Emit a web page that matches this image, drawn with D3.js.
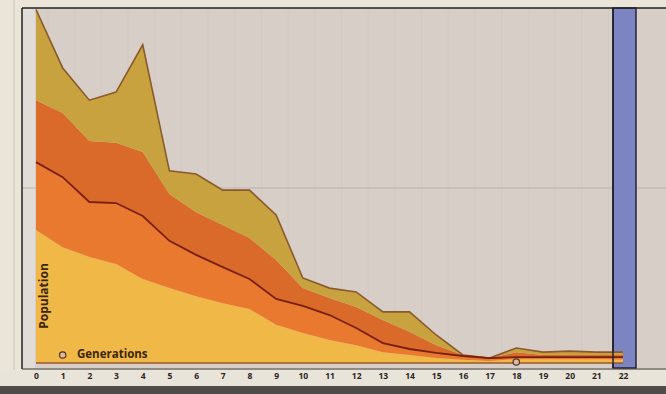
<!DOCTYPE html>
<html>
<head>
<meta charset="utf-8">
<script src="https://cdn.jsdelivr.net/npm/d3@7"></script>
<style>
  body { margin: 0; background: #ebe5d9; }
  svg { display: block; }
  text { font-family: "Open Sans", "Lato", sans-serif; }
</style>
</head>
<body>
<div id="chart"></div>
<script>
//data - population per generation
const generations = d3.range(0, 23);
const maxPop = [101, 84.3, 75.1, 77.4, 90.9, 54.9, 54, 49.4, 49.4, 42.3, 24.3, 21.4, 20.3, 14.6, 14.6, 8, 2.3, 1.4, 4.3, 3.1, 3.4, 3.1, 3.1];
const upperPop = [75.1, 71.4, 63.4, 62.9, 60.3, 48.3, 43.1, 39.4, 35.7, 29.4, 21.4, 18.6, 16, 12.3, 8.9, 5.1, 2.3, 1.4, 3.1, 2.3, 2.3, 2.3, 2.3];
const medianPop = [57.4, 53.1, 46, 45.7, 42, 34.9, 30.9, 27.4, 24, 18.3, 16.3, 13.7, 10, 5.7, 4, 2.9, 2, 1.4, 1.7, 1.7, 1.7, 1.7, 1.7];
const lowerPop = [38, 33.1, 30.3, 28.3, 24, 21.4, 19.1, 17.1, 15.4, 10.9, 8.6, 6.6, 5.1, 3.1, 2.3, 1.4, 0.9, 0.6, 1.1, 1.1, 1.1, 1.1, 1.1];
const markerGens = [1, 18];
const gridValues = [50];

const W = 666, H = 394;

const svg = d3.select("#chart").append("svg")
  .attr("width", W)
  .attr("height", H);

//scales
const x = d3.scaleLinear().domain([0, 22]).range([36, 623]);
const y = d3.scaleLinear().domain([0, 100]).range([363, 13]);

//background bits of the photo
svg.append("rect").attr("x", 0).attr("y", 0).attr("width", W).attr("height", H).attr("fill", "#ebe5d9");
svg.append("line").attr("x1", 14).attr("x2", 14).attr("y1", 0).attr("y2", 385).attr("stroke", "#cbc4b8");
svg.append("rect").attr("x", 0).attr("y", 386).attr("width", W).attr("height", 8).attr("fill", "#4f4d4a");

//plot area
svg.append("rect").attr("x", 22).attr("y", 8).attr("width", W - 22).attr("height", 360).attr("fill", "#d8cec8");
svg.append("rect").attr("x", 22).attr("y", 8).attr("width", 13).attr("height", 360).attr("fill", "#e1dcd7");

//faint vertical grid
svg.append("g").selectAll("line")
  .data(generations)
  .join("line")
  .attr("x1", d => x(d) + 12).attr("x2", d => x(d) + 12)
  .attr("y1", 10).attr("y2", 362)
  .attr("stroke", "#cdc4bf").attr("stroke-width", 1).attr("opacity", 0.45);

//horizontal grid
svg.append("g").selectAll("line")
  .data(gridValues)
  .join("line")
  .attr("x1", 22).attr("x2", W)
  .attr("y1", d => y(d)).attr("y2", d => y(d))
  .attr("stroke", "#b9b1ab").attr("stroke-width", 1.2);

//blue bar at the right (fill behind the data)
svg.append("rect").attr("x", 613).attr("y", 8).attr("width", 23).attr("height", 360)
  .attr("fill", "#7c84c1").attr("stroke", "#1c1c2a").attr("stroke-width", 1.4);

const rows = generations.map((g, i) => ({
  g: g, max: maxPop[i], up: upperPop[i], med: medianPop[i], low: lowerPop[i]
}));

const band = (lo, hi) => d3.area()
  .x(d => x(d.g))
  .y0(d => y(lo(d)))
  .y1(d => y(hi(d)));

//bands bottom to top
svg.append("path").datum(rows).attr("d", band(d => 0, d => d.low)).attr("fill", "#f0b846");
svg.append("path").datum(rows).attr("d", band(d => d.low, d => d.med)).attr("fill", "#e9792f");
svg.append("path").datum(rows).attr("d", band(d => d.med, d => d.up)).attr("fill", "#d96a2a");
svg.append("path").datum(rows).attr("d", band(d => d.up, d => d.max)).attr("fill", "#c8a23e");

//outline on the top
svg.append("path").datum(rows)
  .attr("d", d3.line().x(d => x(d.g)).y(d => y(d.max)))
  .attr("fill", "none").attr("stroke", "#8a5a2c").attr("stroke-width", 1.6);

//median line
svg.append("path").datum(rows)
  .attr("d", d3.line().x(d => x(d.g)).y(d => y(d.med)))
  .attr("fill", "none").attr("stroke", "#7a1f10").attr("stroke-width", 1.8);

//baseline
svg.append("line").attr("x1", x(0)).attr("x2", x(22)).attr("y1", y(0)).attr("y2", y(0))
  .attr("stroke", "#9a5a2a").attr("stroke-width", 1.5);

//markers
svg.append("g").selectAll("circle")
  .data(markerGens)
  .join("circle")
  .attr("cx", d => x(d))
  .attr("cy", (d, i) => i === 0 ? 355 : 362)
  .attr("r", 3.2)
  .attr("fill", "#d9b9a0").attr("stroke", "#5a3020").attr("stroke-width", 1.2);

//left edge of the bar shows through
svg.append("line").attr("x1", 613).attr("x2", 613).attr("y1", 8).attr("y2", 368).attr("stroke", "#1c1c2a").attr("stroke-width", 1.4);

//frame
svg.append("line").attr("x1", 22).attr("x2", 22).attr("y1", 8).attr("y2", 369).attr("stroke", "#222").attr("stroke-width", 1.5);
svg.append("line").attr("x1", 22).attr("x2", W).attr("y1", 8).attr("y2", 8).attr("stroke", "#222").attr("stroke-width", 1.5);
svg.append("line").attr("x1", 22).attr("x2", W).attr("y1", 369).attr("y2", 369).attr("stroke", "#333").attr("stroke-width", 1.2);
svg.append("rect").attr("x", 0).attr("y", 370).attr("width", W).attr("height", 15).attr("fill", "#e9e4da");

//x axis labels
const xAxis = svg.append("g")
  .attr("transform", "translate(0,371)")
  .call(d3.axisBottom(x).tickValues(generations).tickSize(0).tickPadding(2).tickFormat(d3.format("d")));
xAxis.select(".domain").remove();
xAxis.selectAll("text")
  .style("font-family", "'Open Sans', sans-serif")
  .style("font-size", "8.5px")
  .style("font-weight", "700")
  .attr("fill", "#2a2520");

//axis titles
svg.append("text")
  .attr("transform", "translate(48,296) rotate(-90)")
  .attr("text-anchor", "middle")
  .style("font-size", "12px").style("font-weight", "700")
  .attr("fill", "#3a2510")
  .text("Population");

svg.append("text")
  .attr("x", 77).attr("y", 358)
  .style("font-size", "11.5px").style("font-weight", "700")
  .attr("fill", "#3a2510")
  .text("Generations");
</script>
</body>
</html>
